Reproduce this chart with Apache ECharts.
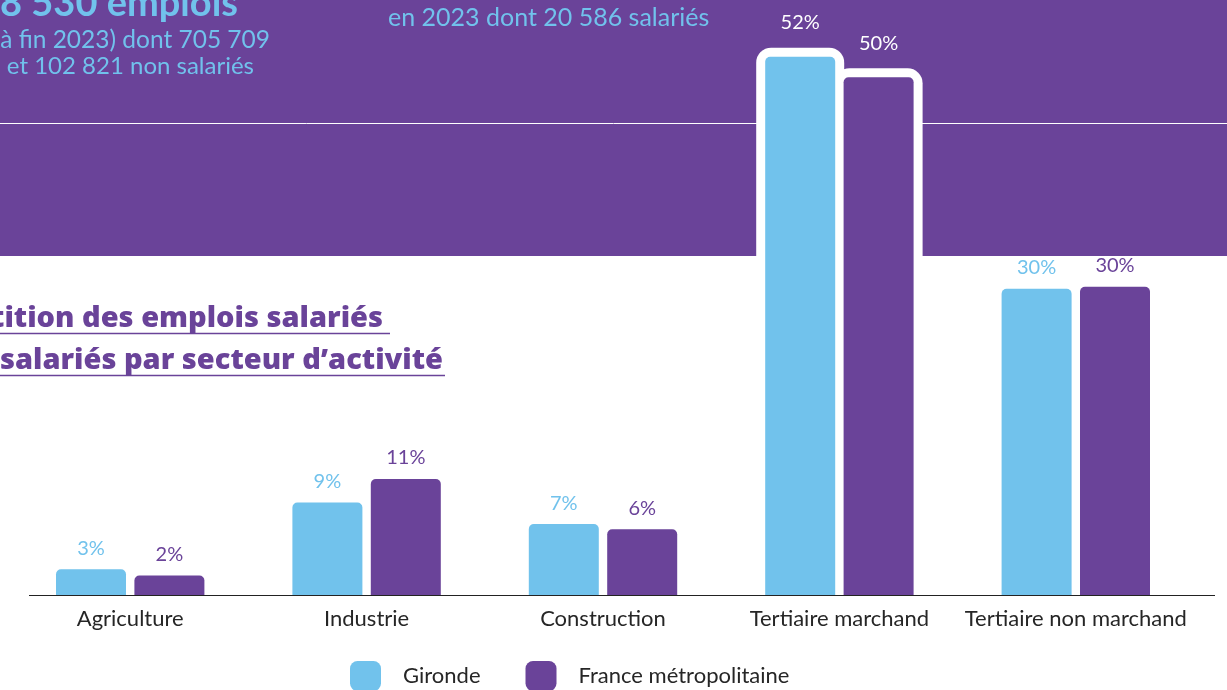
<!DOCTYPE html>
<html>
<head>
<meta charset="utf-8">
<script src="https://cdn.jsdelivr.net/npm/echarts@6/dist/echarts.min.js"></script>
<style>
  html, body { margin: 0; padding: 0; background: #fff; }
  #chart { width: 1227px; height: 690px; }
</style>
</head>
<body>
<div id="chart"></div>
<script>
// data
const categories = ["Agriculture", "Industrie", "Construction", "Tertiaire marchand", "Tertiaire non marchand"];
const seriesNames = ["Gironde", "France métropolitaine"];
const gironde = [2.5, 9.0, 6.9, 52.4, 29.8];
const france = [1.9, 11.3, 6.4, 50.4, 30.0];
const highlighted = "Tertiaire marchand"; // the pair that pokes into the banner

const BLUE = "#71c2ec";
const PURPLE = "#6a4399";
const BAR_W = 70;
const BAR_GAP = 0.12; // fraction of bar width
const OUTLINE = 9; // white rim around the highlighted bars, px

const chart = echarts.init(document.getElementById("chart"));

// white label for the bars that sit on the purple banner
const toData = (values) =>
  values.map((v, i) =>
    categories[i] === highlighted ? { value: v, label: { color: "#fff", distance: 24 } } : v
  );

const barSeries = (name, values, color) => ({
  name: name,
  type: "bar",
  data: toData(values),
  barWidth: BAR_W,
  barGap: BAR_GAP * 100 + "%",
  itemStyle: { color: color, borderRadius: [5, 5, 0, 0] },
  label: {
    show: true,
    position: "top",
    distance: 11,
    color: color,
    fontFamily: "Lato",
    fontSize: 20,
    formatter: (p) => Math.round(p.value) + "%",
  },
  z: 5,
});

// [category index, value, side] for the white rims, side -1 = Gironde, 1 = France
const hi = categories.indexOf(highlighted);
const outlineData = [
  [hi, gironde[hi], -1],
  [hi, france[hi], 1],
];

const outlineSeries = {
  type: "custom",
  silent: true,
  z: 3,
  data: outlineData,
  renderItem: (params, api) => {
    const top = api.coord([api.value(0), api.value(1)]);
    const base = api.coord([api.value(0), 0]);
    const shift = api.value(2) * (BAR_W * (1 + BAR_GAP)) / 2;
    const x = top[0] + shift - BAR_W / 2 - OUTLINE;
    return {
      type: "rect",
      shape: {
        x: x,
        y: top[1] - OUTLINE,
        width: BAR_W + OUTLINE * 2,
        height: base[1] - top[1] + OUTLINE,
        r: [15, 15, 0, 0],
      },
      style: { fill: "#fff" },
    };
  },
};

const option = {
  animation: false,
  grid: { left: 12, right: 33, top: 30, bottom: 95 },
  xAxis: {
    type: "category",
    data: categories,
    axisLine: { show: false },
    axisTick: { show: false },
    axisLabel: { color: "#262626", fontFamily: "Lato", fontSize: 22, margin: 13, interval: 0 },
  },
  yAxis: { type: "value", min: 0, max: 55, show: false },
  legend: {
    data: seriesNames,
    left: 350,
    top: 661,
    padding: 0,
    itemWidth: 31,
    itemHeight: 30,
    itemGap: 45,
    icon: "roundRect",
    textStyle: { color: "#262626", fontFamily: "Lato", fontSize: 22, padding: [0, 0, 0, 17] },
  },
  graphic: [
    // purple banner behind the top of the chart
    { type: "rect", z: 0, shape: { x: 0, y: 0, width: 1227, height: 256 }, style: { fill: PURPLE } },
    { type: "line", z: 1, shape: { x1: 0, y1: 123.5, x2: 1227, y2: 123.5 }, style: { stroke: "#fff", lineWidth: 1 } },
    // axis line drawn by hand, it is not symmetric with the category bands
    { type: "line", z: 10, shape: { x1: 29, y1: 595.5, x2: 1215, y2: 595.5 }, style: { stroke: "#222", lineWidth: 1.2 } },
    {
      type: "text", z: 1, x: 238, y: 4,
      style: { text: "808 530 emplois", fill: BLUE, font: "bold 38px Lato", textAlign: "right", textVerticalAlign: "middle" },
    },
    {
      type: "text", z: 1, x: 270, y: 40,
      style: { text: "(à fin 2023) dont 705 709", fill: BLUE, font: "24.5px Lato", textAlign: "right", textVerticalAlign: "middle" },
    },
    {
      type: "text", z: 1, x: 254, y: 66,
      style: { text: "salariés et 102 821 non salariés", fill: BLUE, font: "24px Lato", textAlign: "right", textVerticalAlign: "middle" },
    },
    {
      type: "text", z: 1, x: 388, y: 18,
      style: { text: "en 2023 dont 20 586 salariés", fill: BLUE, font: "25px Lato", textAlign: "left", textVerticalAlign: "middle" },
    },
    // section title, cut on the left like the original
    {
      type: "text", z: 1, x: 383, y: 319,
      style: { text: "Répartition des emplois salariés", fill: PURPLE, font: "800 29px 'Open Sans'", textAlign: "right", textVerticalAlign: "middle" },
    },
    {
      type: "text", z: 1, x: 443, y: 361,
      style: { text: "et non  salariés par secteur d’activité", fill: PURPLE, font: "800 29px 'Open Sans'", textAlign: "right", textVerticalAlign: "middle" },
    },
    { type: "line", z: 1, shape: { x1: 0, y1: 333.5, x2: 390, y2: 333.5 }, style: { stroke: PURPLE, lineWidth: 1.5 } },
    { type: "line", z: 1, shape: { x1: 0, y1: 375.5, x2: 445, y2: 375.5 }, style: { stroke: PURPLE, lineWidth: 1.5 } },
  ],
  series: [
    barSeries(seriesNames[0], gironde, BLUE),
    barSeries(seriesNames[1], france, PURPLE),
    outlineSeries,
  ],
};

chart.setOption(option);
</script>
</body>
</html>
